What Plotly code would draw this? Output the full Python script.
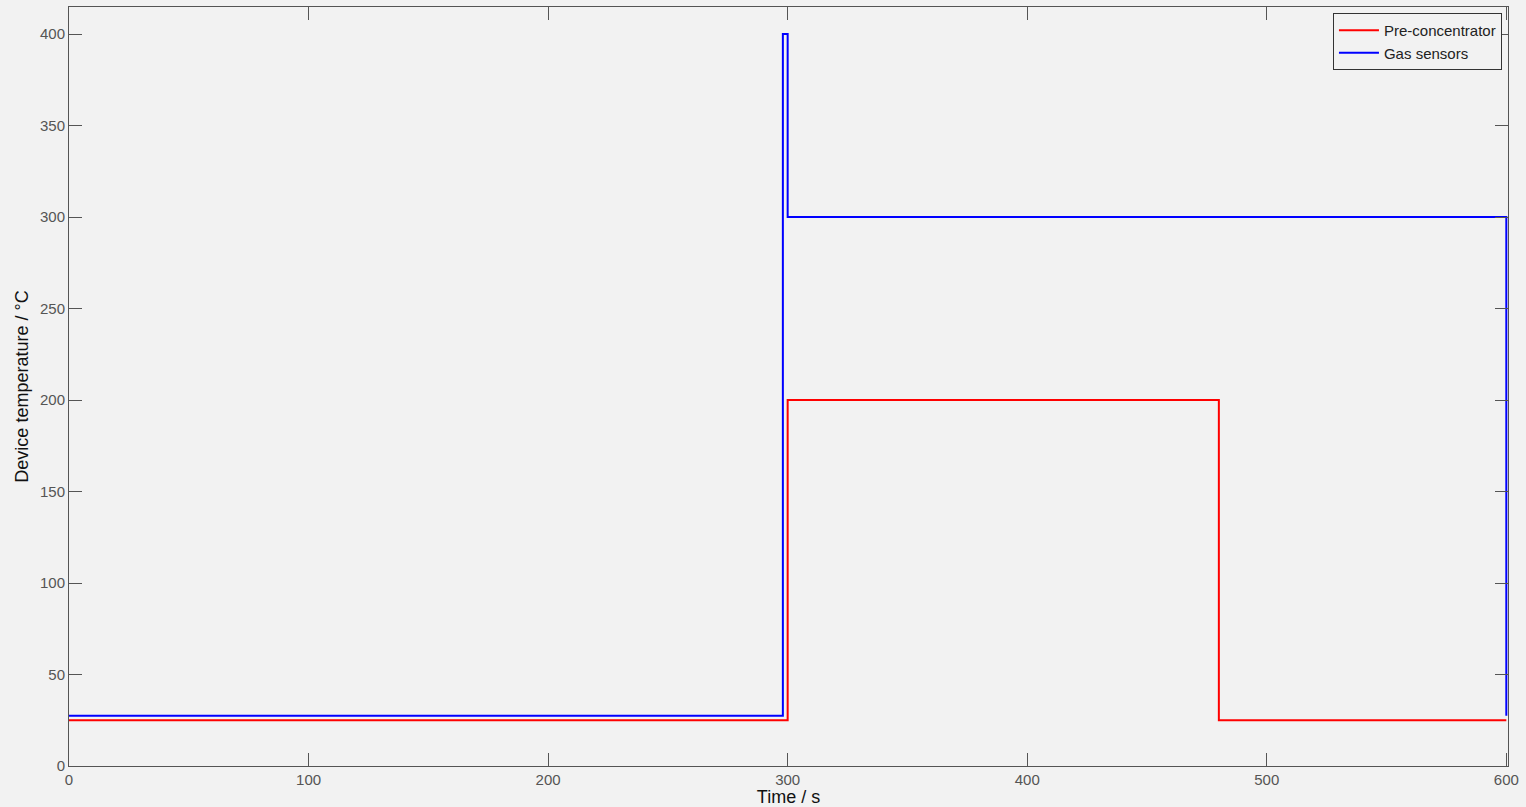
import plotly.graph_objects as go

# Step profiles: each point marks the time a new set-point starts
pre_time = [0, 300, 480, 600]
pre_temp = [25, 200, 25, 25]

gas_time = [0, 298, 300, 600]
gas_temp = [27.5, 400, 300, 27.5]

x_ticks = [0, 100, 200, 300, 400, 500, 600]
y_ticks = [0, 50, 100, 150, 200, 250, 300, 350, 400]

FONT = "Liberation Sans, Arial, sans-serif"

fig = go.Figure()
fig.add_trace(go.Scatter(x=pre_time, y=pre_temp, mode="lines", line_shape="hv",
                         line=dict(color="#ff0000", width=2), name="Pre-concentrator"))
fig.add_trace(go.Scatter(x=gas_time, y=gas_temp, mode="lines", line_shape="hv",
                         line=dict(color="#0000ff", width=2), name="Gas sensors"))

axis_common = dict(
    showline=True, linecolor="#555555", linewidth=1, mirror="ticks",
    ticks="inside", ticklen=13, tickcolor="#555555", tickwidth=1,
    showgrid=False, zeroline=False, automargin=False,
    tickfont=dict(family=FONT, size=15, color="#555555"),
)

fig.update_xaxes(range=[0, 600.7], tickvals=x_ticks,
                 title=dict(text="Time / s", standoff=3,
                            font=dict(family=FONT, size=18, color="#111111")),
                 **axis_common)
fig.update_yaxes(range=[0, 414.8], tickvals=y_ticks,
                 title=dict(text="Device temperature / °C", standoff=6,
                            font=dict(family=FONT, size=18, color="#111111")),
                 **axis_common)

fig.update_layout(
    width=1526, height=807,
    margin=dict(l=69, r=18, t=7, b=41),
    paper_bgcolor="#f2f2f2", plot_bgcolor="#f2f2f2",
    legend=dict(x=0.9958, y=0.992, xanchor="right", yanchor="top",
                bgcolor="#f2f2f2", bordercolor="#333333", borderwidth=1,
                font=dict(family=FONT, size=15, color="#222222"),
                tracegroupgap=0, itemwidth=40),
    showlegend=True,
)

fig.write_html("out.html")
